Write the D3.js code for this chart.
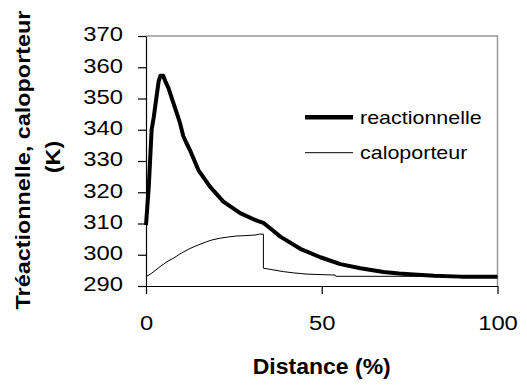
<!DOCTYPE html>
<html>
<head>
<meta charset="utf-8">
<script src="https://cdn.jsdelivr.net/npm/d3@7/dist/d3.min.js"></script>
<style>
  html, body { margin: 0; padding: 0; background: #fff; }
  svg { display: block; font-family: "Liberation Sans", Arial, Helvetica, sans-serif; }
</style>
</head>
<body>
<svg id="chart" width="527" height="385"></svg>
<script>
// ---- data ----
const reactDist = [0, 0.8, 1.6, 2.2, 3.0, 3.6, 4.1, 4.9, 5.5, 6.4, 7.8, 9.0, 9.7, 10.6, 11.4, 12.5, 14.9, 18.2, 22.0, 26.8, 31.5, 33.4, 35.5, 38.2, 43.9, 49.6, 55.3, 61.0, 67.6, 72.0, 76.2, 82.0, 89.5, 100];
const reactTemp = [309.5, 322, 340, 344, 350.6, 355.5, 357.3, 357.3, 355.5, 353.3, 348.5, 344.5, 342, 338, 336, 333.5, 327.1, 321.8, 317, 313.3, 310.9, 310.2, 308.3, 305.8, 301.9, 299.2, 297, 295.7, 294.5, 294, 293.7, 293.3, 293, 293];
const caloDist = [0, 1.5, 4, 6, 7.8, 10, 12.5, 15, 17.3, 19, 21.1, 23.5, 25.8, 28, 31, 32.3, 33.4, 33.4, 35, 39.1, 42, 45.8, 53.8, 54, 100];
const caloTemp = [293, 294, 296.2, 297.8, 298.9, 300.5, 302, 303.2, 304.2, 304.8, 305.3, 305.7, 306, 306.1, 306.3, 306.6, 306.6, 295.7, 295.4, 294.6, 294.2, 293.8, 293.5, 293.1, 293.1];
const seriesNames = ["reactionnelle", "caloporteur"];
const yTicks = [290, 300, 310, 320, 330, 340, 350, 360, 370];
const xTicks = [0, 50, 100];
const xTitle = "Distance (%)";
const yTitle = ["Tréactionnelle, caloporteur", "(K)"];

// ---- layout ----
const L = 146, R = 497.5, T = 36, B = 286;
const svg = d3.select("#chart");
const x = d3.scaleLinear().domain([0, 100]).range([L, R]);
const y = d3.scaleLinear().domain([290, 370]).range([B, T]);

// plot border (top/right, gray)
svg.append("path")
  .attr("d", `M${L},${T}H${R}V${B}`)
  .attr("fill", "none").attr("stroke", "#9a9a9a").attr("stroke-width", 1.5);

// axes
const yAxis = svg.append("g").attr("transform", `translate(${L},0)`)
  .call(d3.axisLeft(y).tickValues(yTicks).tickSize(8).tickSizeOuter(0).tickFormat(d3.format("d")));
const xAxis = svg.append("g").attr("transform", `translate(0,${B})`)
  .call(d3.axisBottom(x).tickValues(xTicks).tickSize(8).tickSizeOuter(0).tickFormat(d3.format("d")));
[yAxis, xAxis].forEach(a => {
  a.select(".domain").attr("stroke", "#000").attr("stroke-width", 1.2);
  a.selectAll(".tick line").attr("stroke", "#000").attr("stroke-width", 1.2);
});
yAxis.selectAll(".tick text")
  .attr("x", 0).attr("dy", null)
  .attr("font-size", 19.5).attr("fill", "#000").attr("font-family", "Liberation Sans, Arial, sans-serif")
  .attr("text-anchor", "end")
  .attr("transform", "translate(-23,4.8) scale(1.22,1)");
xAxis.selectAll(".tick text")
  .attr("y", 0).attr("dy", null)
  .attr("font-size", 19.5).attr("fill", "#000").attr("font-family", "Liberation Sans, Arial, sans-serif")
  .attr("text-anchor", "middle")
  .attr("transform", "translate(0,43.5) scale(1.22,1)");

// lines
const line = d3.line().x(d => x(d[0])).y(d => y(d[1]));
const caloData = caloDist.map((d, i) => [d, caloTemp[i]]);
const reactData = reactDist.map((d, i) => [d, reactTemp[i]]);
svg.append("path").datum(caloData).attr("d", line)
  .attr("fill", "none").attr("stroke", "#000").attr("stroke-width", 1);
svg.append("path").datum(reactData).attr("d", line)
  .attr("fill", "none").attr("stroke", "#000").attr("stroke-width", 4).attr("stroke-linejoin", "round");

// legend
const legend = [
  { name: seriesNames[0], w: 4.5, ly: 117.3, ty: 123.5 },
  { name: seriesNames[1], w: 1, ly: 152.7, ty: 158.5 }
];
legend.forEach(l => {
  svg.append("line").attr("x1", 305).attr("x2", 353).attr("y1", l.ly).attr("y2", l.ly)
    .attr("stroke", "#000").attr("stroke-width", l.w);
  svg.append("text").text(l.name)
    .attr("font-size", 19).attr("fill", "#000")
    .attr("transform", `translate(360,${l.ty}) scale(1.13,1)`);
});

// axis titles
svg.append("text").text(xTitle)
  .attr("font-size", 22).attr("font-weight", "bold").attr("text-anchor", "middle")
  .attr("transform", `translate(${(L + R) / 2},373.5) scale(1.045,1)`);
svg.append("text").text(yTitle[0])
  .attr("font-size", 20).attr("font-weight", "bold").attr("text-anchor", "middle")
  .attr("transform", "translate(29.5,160) rotate(-90) scale(1.17,1)");
svg.append("text").text(yTitle[1])
  .attr("font-size", 20).attr("font-weight", "bold").attr("text-anchor", "middle")
  .attr("transform", "translate(60,157) rotate(-90) scale(1.17,1)");
</script>
</body>
</html>
